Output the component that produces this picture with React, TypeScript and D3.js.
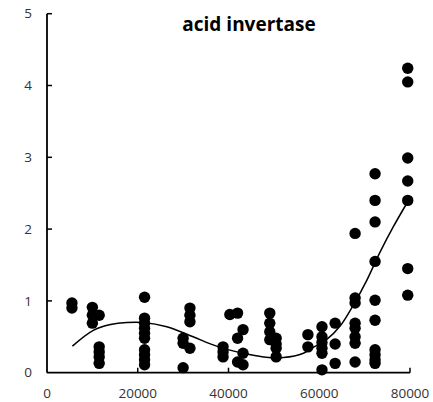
import React from "react";
import * as d3 from "d3";

const WIDTH = 433;
const HEIGHT = 402;

const chartTitle = "acid invertase";
const xTicks = [0, 20000, 40000, 60000, 80000];
const yTicks = [0, 1, 2, 3, 4, 5];

// scatter observations: [x, y]
const pointsX: number[] = [
  5500, 5500,
  10000, 10000, 10000,
  11500, 11500, 11500, 11500, 11500,
  21500, 21500, 21500, 21500, 21500, 21500, 21500, 21500, 21500, 21500,
  30000, 30000, 30000,
  31500, 31500, 31500, 31500,
  38800, 38800, 38800,
  40300,
  42000, 42000, 42000,
  43200, 43200, 43200,
  49100, 49100, 49100, 49100,
  50500, 50500, 50500, 50500,
  57500, 57500,
  60600, 60600, 60600, 60600, 60600, 60600,
  63500, 63500, 63500,
  67900, 67900, 67900, 67900, 67900, 67900, 67900, 67900,
  72300, 72300, 72300, 72300, 72300, 72300, 72300, 72300, 72300, 72300,
  79500, 79500, 79500, 79500, 79500, 79500, 79500,
];
const pointsY: number[] = [
  0.97, 0.9,
  0.91, 0.8, 0.69,
  0.8, 0.36, 0.29, 0.22, 0.13,
  1.05, 0.76, 0.69, 0.62, 0.55, 0.48, 0.32, 0.25, 0.18, 0.11,
  0.48, 0.41, 0.07,
  0.9, 0.8, 0.71, 0.34,
  0.36, 0.29, 0.22,
  0.81,
  0.83, 0.48, 0.15,
  0.6, 0.27, 0.11,
  0.83, 0.69, 0.57, 0.46,
  0.48, 0.4, 0.34, 0.22,
  0.53, 0.36,
  0.64, 0.5, 0.42, 0.34, 0.27, 0.04,
  0.69, 0.4, 0.13,
  1.94, 1.04, 0.97, 0.69, 0.62, 0.5, 0.41, 0.15,
  2.77, 2.4, 2.1, 1.55, 1.01, 0.73, 0.32, 0.25, 0.18, 0.13,
  4.24, 4.05, 2.99, 2.67, 2.4, 1.45, 1.08,
];

// trend line
const trendX: number[] = [5600, 10200, 14000, 17600, 21200, 26400, 32200, 37400, 43300, 47700, 52100, 56500, 58000, 61600, 64600, 67500, 70500, 73400, 76300, 79300];
const trendY: number[] = [0.37, 0.59, 0.67, 0.7, 0.7, 0.64, 0.5, 0.37, 0.27, 0.22, 0.21, 0.27, 0.33, 0.46, 0.65, 0.94, 1.29, 1.68, 2.03, 2.36];

const FONT = "'Open Sans', sans-serif";

export default function App() {
  const x = d3.scaleLinear().domain([0, 80000]).range([47, 410]);
  const y = d3.scaleLinear().domain([0, 5]).range([372.7, 13.7]);

  const trend = trendX.map((v, i) => [v, trendY[i]] as [number, number]);
  const line = d3
    .line<[number, number]>()
    .x((d) => x(d[0]))
    .y((d) => y(d[1]))
    .curve(d3.curveCatmullRom.alpha(0.5));

  const tickLen = 5;
  return (
    <svg
      width={WIDTH}
      height={HEIGHT}
      style={{ position: "absolute", left: 0, top: 0, background: "#fff" }}
      fontFamily={FONT}
    >
      <rect x={0} y={0} width={WIDTH} height={HEIGHT} fill="#fff" />
      {/* axes */}
      <line x1={x(0)} x2={x(0)} y1={y(5)} y2={y(0)} stroke="#000" strokeWidth={1.8} />
      <line x1={x(0)} x2={x(80000)} y1={y(0)} y2={y(0)} stroke="#000" strokeWidth={1.8} />
      {yTicks.map((t) => (
        <g key={"y" + t}>
          {t > 0 && (
            <line x1={x(0)} x2={x(0) + tickLen} y1={y(t)} y2={y(t)} stroke="#000" strokeWidth={1.5} />
          )}
          <text x={32} y={y(t)} dy="0.35em" textAnchor="end" fontSize={13.5} fill="#333">
            {t}
          </text>
        </g>
      ))}
      {xTicks.map((t) => (
        <g key={"x" + t}>
          {t > 0 && (
            <line x1={x(t)} x2={x(t)} y1={y(0)} y2={y(0) - tickLen} stroke="#000" strokeWidth={1.5} />
          )}
          <text x={x(t)} y={398} textAnchor="middle" fontSize={13.5} fill="#333">
            {t}
          </text>
        </g>
      ))}
      {/* points */}
      {pointsX.map((v, i) => (
        <circle key={i} cx={x(v)} cy={y(pointsY[i])} r={5.7} fill="#000" />
      ))}
      {/* trend */}
      <path d={line(trend) || ""} fill="none" stroke="#000" strokeWidth={1.5} />
      {/* title */}
      <text x={249} y={31} textAnchor="middle" fontSize={19} fontWeight="bold" fill="#000">
        {chartTitle}
      </text>
    </svg>
  );
}
